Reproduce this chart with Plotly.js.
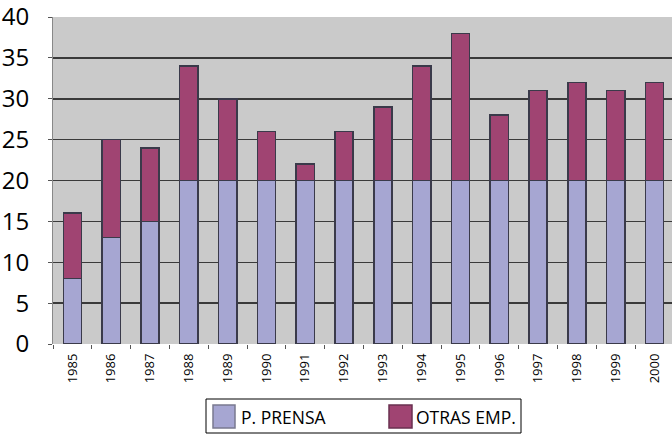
<!DOCTYPE html>
<html><head><meta charset="utf-8">
<script src="https://cdn.plot.ly/plotly-3.0.1.min.js"></script>
<style>html,body{margin:0;padding:0;background:#fff;overflow:hidden}</style>
</head><body><div id="chart" style="width:672px;height:435px"></div>
<script>
const years = ["1985","1986","1987","1988","1989","1990","1991","1992","1993","1994","1995","1996","1997","1998","1999","2000"];
const prensa = [8,13,15,20,20,20,20,20,20,20,20,20,20,20,20,20];
const otras = [8,12,9,14,10,6,2,6,9,14,18,8,11,12,11,12];
const seriesNames = ["P. PRENSA","OTRAS EMP."];
const seriesColors = ["#a6a6d2","#a04472"];

const ML = 53, MT = 17, MB = 91, W = 672, H = 435;
const PW = W - ML, PH = H - MT - MB;
const px = v => (v - ML) / PW;
const py = v => (H - MB - v) / PH;

const data = [
  {type:'bar', name:seriesNames[0], x:years, y:prensa, showlegend:false,
   marker:{color:seriesColors[0], line:{color:'#3a3a4a', width:1.5}}},
  {type:'bar', name:seriesNames[1], x:years, y:otras, showlegend:false,
   marker:{color:seriesColors[1], line:{color:'#3a3a4a', width:1.5}}}
];
const shapes = [
  {type:'rect', xref:'paper', yref:'paper', x0:px(206), x1:px(521), y0:py(433), y1:py(399),
   line:{color:'#000', width:1}, fillcolor:'#fff'},
  {type:'rect', xref:'paper', yref:'paper', x0:px(213), x1:px(235), y0:py(428), y1:py(405),
   line:{color:'#7a7a90', width:1.5}, fillcolor:seriesColors[0]},
  {type:'rect', xref:'paper', yref:'paper', x0:px(389), x1:px(412), y0:py(428), y1:py(405),
   line:{color:'#6a3050', width:1.5}, fillcolor:seriesColors[1]}
];
const annotations = [
  {xref:'paper', yref:'paper', x:px(239), y:py(417), xanchor:'left', yanchor:'middle', showarrow:false,
   text:seriesNames[0], font:{size:17.5, family:'Open Sans, sans-serif', color:'#000'}},
  {xref:'paper', yref:'paper', x:px(414), y:py(417), xanchor:'left', yanchor:'middle', showarrow:false,
   text:seriesNames[1], font:{size:17.5, family:'Open Sans, sans-serif', color:'#000'}}
];
const layout = {
  width:W, height:H, barmode:'stack', bargap:0.53,
  margin:{l:ML, r:0, t:MT, b:MB},
  paper_bgcolor:'#ffffff', plot_bgcolor:'#cacaca',
  font:{family:'Open Sans, sans-serif', color:'#000'},
  xaxis:{type:'category', range:[-0.5,15.45], tickangle:-90, tickson:'boundaries',
    ticks:'outside', ticklen:4, tickcolor:'#555', showline:false, ticklabelstandoff:6,
    tickfont:{size:13, family:'Open Sans, sans-serif'}, showgrid:false},
  yaxis:{range:[0,40], dtick:5, showgrid:true, gridcolor:'#3a3a3a', gridwidth:1.5,
    ticks:'outside', ticklen:4, tickcolor:'#555', showline:true, linecolor:'#888', linewidth:1,
    ticklabelstandoff:14, ticklabeloverflow:'allow',
    zeroline:false, tickfont:{size:24, family:'Open Sans, sans-serif'}},
  showlegend:false, shapes:shapes, annotations:annotations
};
Plotly.newPlot('chart', data, layout, {displayModeBar:false, staticPlot:true});
</script></body></html>
